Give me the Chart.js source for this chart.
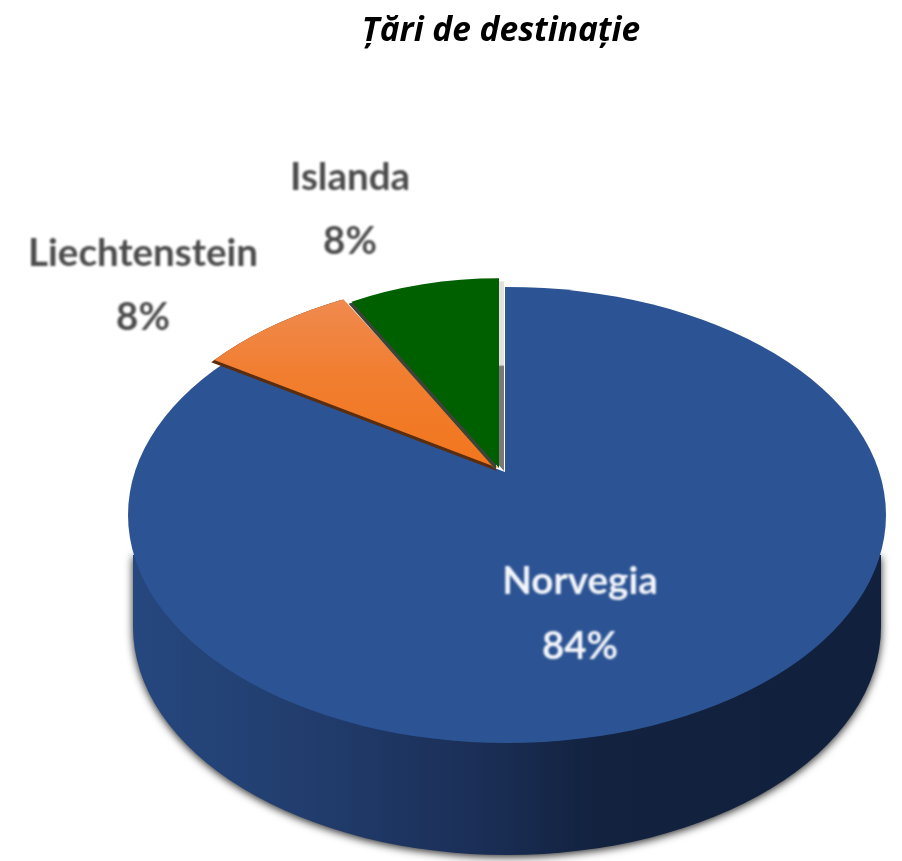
<!DOCTYPE html>
<html><head><meta charset="utf-8">
<style>html,body{margin:0;padding:0;background:#fff}canvas{display:block}</style>
<script src="https://cdn.jsdelivr.net/npm/chart.js@4"></script>
</head><body><canvas id="c" width="902" height="861"></canvas>
<script>
const chartTitle = "Țări de destinație";
const categories = ["Norvegia", "Liechtenstein", "Islanda"];
const shares = [84, 8, 8];
const sliceColors = ["#2c5494", "#f27a24", "#006000"];
const labelColors = ["#f4f6fa", "#4c4c4c", "#4c4c4c"];

// view of the tilted pie (layout only)
const BASE_R = 600;
const top3d = {cx:507, cy:515, rx:379, ry:228};
const bottom3d = {cx:507, cy:627, rx:374, ry:228};
const wedgeView = [
  {cx:505, cy:472, r:600, tilt:0.6},
  {cx:498, cy:468, r:400, tilt:0.6},
  {cx:499, cy:468, r:306, tilt:0.62}
];
const labelPos = [[580,582,647],[143,254,318],[350,178,242]];

function place(ctx, el, v, dx, dy){
  const s = v.r / BASE_R;
  ctx.translate(v.cx + (dx||0), v.cy + (dy||0));
  ctx.scale(s, s * v.tilt);
  ctx.translate(-el.x, -el.y);
}
function drawCopy(ctx, el, v, fill, dx, dy){
  const o = el.options, keep = o.backgroundColor;
  ctx.save();
  place(ctx, el, v, dx, dy);
  if (fill) o.backgroundColor = fill;
  el.draw(ctx);
  o.backgroundColor = keep;
  ctx.restore();
}
function clipTop(ctx, lift){
  ctx.beginPath();
  ctx.ellipse(top3d.cx,top3d.cy-lift,top3d.rx,top3d.ry,0,0,Math.PI*2);
  ctx.clip();
}
const pie3d = {
  id:'pie3d',
  beforeDatasetsDraw(chart){
    const ctx = chart.ctx, arcs = chart.getDatasetMeta(0).data;
    // side wall
    ctx.save();
    const g = ctx.createLinearGradient(130,0,885,0);
    g.addColorStop(0,'#26487f'); g.addColorStop(.25,'#213c6c'); g.addColorStop(.45,'#1b2f58');
    g.addColorStop(.62,'#12223f'); g.addColorStop(1,'#11203c');
    ctx.shadowColor='rgba(40,40,40,1)'; ctx.shadowBlur=9; ctx.shadowOffsetY=2;
    ctx.fillStyle=g;
    ctx.beginPath();
    ctx.moveTo(bottom3d.cx-bottom3d.rx, top3d.cy+40);
    ctx.lineTo(bottom3d.cx-bottom3d.rx, bottom3d.cy);
    ctx.ellipse(bottom3d.cx,bottom3d.cy,bottom3d.rx,bottom3d.ry,0,Math.PI,0,true);
    ctx.lineTo(bottom3d.cx+bottom3d.rx, top3d.cy+40);
    ctx.closePath(); ctx.fill();
    ctx.restore();
    // main slice, clipped to the top ellipse
    ctx.save();
    clipTop(ctx,0);
    drawCopy(ctx, arcs[0], wedgeView[0]);
    ctx.restore();
    // thin rim of the Islanda slice beside the main slice (gradient in element space)
    const isl = arcs[2];
    const rim = ctx.createLinearGradient(0,isl.y-BASE_R,0,isl.y);
    rim.addColorStop(0,'#e6dede'); rim.addColorStop(.44,'#e6dede');
    rim.addColorStop(.45,'#7c7878'); rim.addColorStop(1,'#7c7878');
    drawCopy(ctx, arcs[2], wedgeView[2], rim, 5, 3);
    // orange slice with its dark under-edge, clipped to a slightly raised ellipse
    ctx.save();
    clipTop(ctx,10);
    drawCopy(ctx, arcs[1], wedgeView[1], '#5a2c10', -1, 3);
    const el = arcs[1], go = ctx.createLinearGradient(0, el.y-BASE_R*0.7, 0, el.y);
    go.addColorStop(0,'#f08a4e'); go.addColorStop(.45,'#f17e30'); go.addColorStop(1,'#f2761c');
    drawCopy(ctx, arcs[1], wedgeView[1], go);
    ctx.restore();
    drawCopy(ctx, arcs[2], wedgeView[2], '#3b4438', -3, 2);
    drawCopy(ctx, arcs[2], wedgeView[2]);
    // labels
    ctx.save();
    ctx.filter='blur(0.9px)';
    ctx.textAlign='center'; ctx.textBaseline='middle';
    ctx.font='700 38.5px Lato';
    categories.forEach((name,i)=>{
      ctx.fillStyle=labelColors[i];
      ctx.fillText(name,labelPos[i][0],labelPos[i][1]);
      ctx.fillText(shares[i]+'%',labelPos[i][0],labelPos[i][2]);
    });
    ctx.restore();
    return false;
  }
};
new Chart(document.getElementById('c'),{
  type:'pie',
  data:{labels:categories,datasets:[{data:shares,backgroundColor:sliceColors,borderWidth:0}]},
  options:{
    responsive:false,animation:false,radius:BASE_R,
    layout:{padding:{left:100}},
    plugins:{
      legend:{display:false},tooltip:{enabled:false},
      title:{display:true,text:chartTitle,color:'#000',
        font:{family:'"Open Sans"',size:33.5,weight:'bold',style:'italic'},padding:{top:11,bottom:8}}
    }
  },
  plugins:[pie3d]
});
</script></body></html>
